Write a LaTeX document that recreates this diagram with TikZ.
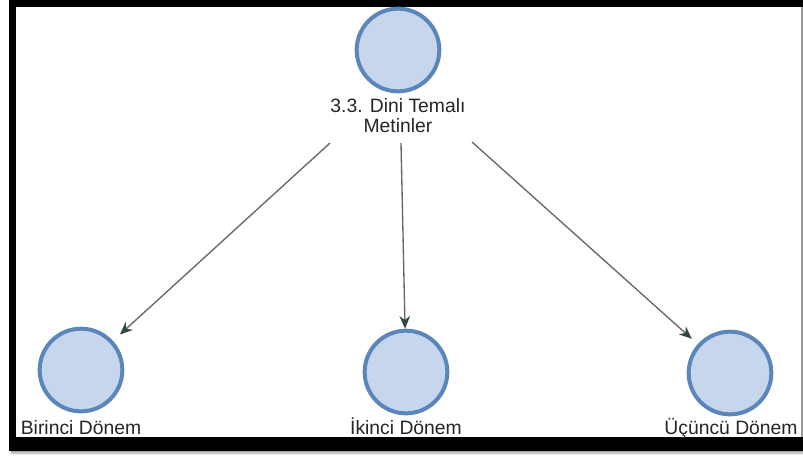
\documentclass[tikz,border=0pt]{standalone}
\usepackage{fontspec}
\setmainfont{Liberation Sans}
\usetikzlibrary{arrows.meta}
\definecolor{ringblue}{HTML}{5A86BA}
\definecolor{fillblue}{HTML}{C6D6EC}
\definecolor{edgegray}{HTML}{666666}
\definecolor{tipgreen}{HTML}{2F4A3E}
\tikzset{
  circ/.style={circle, draw=ringblue, fill=fillblue, line width=3pt, minimum size=62pt, inner sep=0pt},
  lbl/.style={font=\fontsize{14.5pt}{15pt}\selectfont, align=center, inner sep=0pt, text=black!85},
  edge/.style={draw=edgegray, line width=1pt, -{Stealth[length=9.5pt,width=8pt,color=tipgreen]}}
}
\begin{document}
\begin{tikzpicture}[x=0.75pt,y=-0.75pt]
\useasboundingbox (0,0) rectangle (803,455);
% frame
\fill[black] (9,-5) rectangle (812,451);
\fill[white] (16,7) rectangle (801,437);
\fill[gray!80] (801,7) rectangle (803,437);
\shade[top color=gray!70, bottom color=white] (11,451) rectangle (803,455);
% nodes
\node[circ] (t) at (398,50) {};
\node[lbl] (tl) at (398,116) {3.3. Dini Temalı\\Metinler};
\node[circ] (b1) at (81,370) {};
\node[circ] (b2) at (406,372) {};
\node[circ] (b3) at (730,373) {};
\node[lbl, anchor=base] (l1) at (81,434) {Birinci Dönem};
\node[lbl, anchor=base] (l2) at (406,434) {İkinci Dönem};
\node[lbl, anchor=base] (l3) at (731,434) {Üçüncü Dönem};
% connectors
\coordinate (s1) at (330,143);
\coordinate (s2) at (401,143);
\coordinate (s3) at (472,142);
\draw[edge, shorten >=7pt] (s1) -- (b1);
\draw[edge] (s2) -- (b2);
\draw[edge, shorten >=6pt] (s3) -- (b3);
\end{tikzpicture}
\end{document}
